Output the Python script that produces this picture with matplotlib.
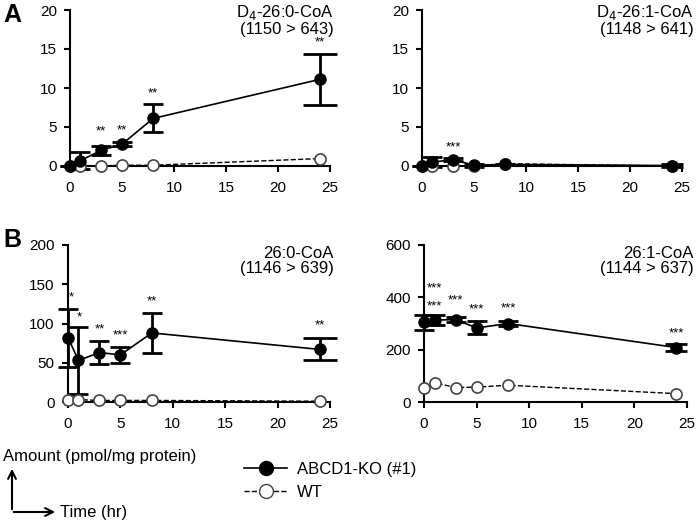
import matplotlib
matplotlib.use("Agg")
import matplotlib.pyplot as plt
from matplotlib.lines import Line2D
from matplotlib.patches import FancyArrowPatch

plt.rcParams['font.family'] = ['Liberation Sans', 'DejaVu Sans']

# time points (hr)
time = [0, 1, 3, 5, 8, 24]

# Panel A left: D4-26:0-CoA
a1_ko = [0.0, 0.7, 2.0, 2.8, 6.1, 11.1]
a1_ko_err = [0.0, 1.1, 0.6, 0.3, 1.8, 3.3]
a1_wt = [0.0, 0.0, 0.0, 0.1, 0.1, 0.95]
a1_stars = ["", "", "**", "**", "**", "**"]
a1_star_y = [0, 0, 4.4, 4.6, 9.3, 15.9]

# Panel A right: D4-26:1-CoA
a2_ko = [0.0, 0.5, 0.8, 0.1, 0.2, 0.05]
a2_ko_err = [0.0, 0.6, 0.2, 0.2, 0.1, 0.2]
a2_wt = [0.0, 0.0, 0.0, 0.0, 0.3, 0.0]
a2_stars = ["", "", "***", "", "", ""]
a2_star_y = [0, 0, 2.4, 0, 0, 0]

# Panel B left: 26:0-CoA
b1_ko = [82, 53, 63, 60, 88, 67]
b1_ko_err = [37, 43, 15, 10, 25, 14]
b1_wt = [3, 3, 2, 2, 2, 1]
b1_stars = ["*", "*", "**", "***", "**", "**"]
b1_star_x = [0.3, 1.1, 3, 5, 8, 24]
b1_star_y = [133, 108, 93, 85, 128, 98]

# Panel B right: 26:1-CoA
b2_ko = [304, 313, 315, 283, 300, 208]
b2_ko_err = [28, 19, 11, 25, 10, 12]
b2_wt = [55, 74, 55, 57, 64, 32]
b2_stars = ["***", "***", "***", "***", "***", "***"]
b2_star_x = [1, 1, 3, 5, 8, 24]
b2_star_y = [364, 434, 390, 354, 358, 262]

W, H = 697, 524
fig = plt.figure(figsize=(W / 100, H / 100), dpi=100)


def panel(box, ko, err, wt, ymax, ystep, title, title_pos, stars, star_x, star_y,
          wide_last=False):
    # box in pixels: left, top, right, bottom
    l, t, r, b = box
    ax = fig.add_axes([l / W, 1 - b / H, (r - l) / W, (b - t) / H])
    ax.errorbar(time[:-1], ko[:-1], yerr=err[:-1], fmt='none', ecolor='black',
                elinewidth=2, capsize=7.5, capthick=2, clip_on=False, zorder=3)
    ax.errorbar(time[-1:], ko[-1:], yerr=err[-1:], fmt='none', ecolor='black',
                elinewidth=2, capsize=12 if wide_last else 8, capthick=2,
                clip_on=False, zorder=3)
    ax.plot(time, wt, linestyle='--', color='black', lw=1.0, marker='o',
            markersize=8, markerfacecolor='white', markeredgecolor='#444444',
            markeredgewidth=1.2, clip_on=False, zorder=4)
    ax.plot(time, ko, linestyle='-', color='black', lw=1.2, marker='o',
            markersize=8, markerfacecolor='black', markeredgecolor='black',
            clip_on=False, zorder=5)
    for sx, sy, s in zip(star_x, star_y, stars):
        if s:
            ax.text(sx, sy, s, ha='center', va='center', fontsize=9.5)
    ax.set_xlim(0, 25)
    ax.set_ylim(0, ymax)
    ax.set_xticks(range(0, 26, 5))
    ax.set_yticks(range(0, ymax + 1, ystep))
    for side in ['top', 'right']:
        ax.spines[side].set_visible(False)
    for side in ['left', 'bottom']:
        ax.spines[side].set_linewidth(1.5)
    ax.tick_params(direction='out', length=4.5, width=1.5, labelsize=11)
    ax.tick_params(axis='x', pad=6)
    ax.tick_params(axis='y', pad=5)
    fig.text(title_pos[0] / W, 1 - title_pos[1] / H, title, ha='right',
             va='top', fontsize=12, linespacing=1.0)
    return ax


panel((70, 10, 330, 166), a1_ko, a1_ko_err, a1_wt, 20, 5,
      "D$_4$-26:0-CoA\n(1150 > 643)", (334, 3), a1_stars, time, a1_star_y,
      wide_last=True)
panel((422, 10, 682, 166), a2_ko, a2_ko_err, a2_wt, 20, 5,
      "D$_4$-26:1-CoA\n(1148 > 641)", (694, 3), a2_stars, time, a2_star_y)
panel((68, 245, 330, 402), b1_ko, b1_ko_err, b1_wt, 200, 50,
      "26:0-CoA\n(1146 > 639)", (334, 246), b1_stars, b1_star_x, b1_star_y,
      wide_last=True)
panel((424, 245, 687, 402), b2_ko, b2_ko_err, b2_wt, 600, 200,
      "26:1-CoA\n(1144 > 637)", (694, 246), b2_stars, b2_star_x, b2_star_y)

fig.text(3 / W, 1 - 15 / H, "A", fontsize=18, fontweight='bold',
         ha='left', va='center')
fig.text(3 / W, 1 - 240 / H, "B", fontsize=18, fontweight='bold',
         ha='left', va='center')

# legend
handles = [
    Line2D([], [], color='black', lw=1.2, marker='o', markersize=10,
           markerfacecolor='black'),
    Line2D([], [], color='black', lw=1.0, linestyle='--', marker='o',
           markersize=10, markerfacecolor='white', markeredgecolor='#444444'),
]
fig.legend(handles, ["ABCD1-KO (#1)", "WT"], loc='center left',
           bbox_to_anchor=(229 / W, 1 - 481 / H), frameon=False,
           fontsize=12, handlelength=2.6, handletextpad=0.6, labelspacing=0.45)

# axis key
fig.text(3 / W, 1 - 457 / H, "Amount (pmol/mg protein)", fontsize=12,
         ha='left', va='center')
fig.text(60 / W, 1 - 512 / H, "Time (hr)", fontsize=12,
         ha='left', va='center')
fig.add_artist(FancyArrowPatch((12 / W, 1 - 512 / H), (12 / W, 1 - 466 / H),
                               transform=fig.transFigure, arrowstyle='->',
                               mutation_scale=14, lw=1.5, color='black'))
fig.add_artist(FancyArrowPatch((11 / W, 1 - 512 / H), (58 / W, 1 - 512 / H),
                               transform=fig.transFigure, arrowstyle='->',
                               mutation_scale=14, lw=1.5, color='black'))

fig.savefig("out.png", dpi=100)
